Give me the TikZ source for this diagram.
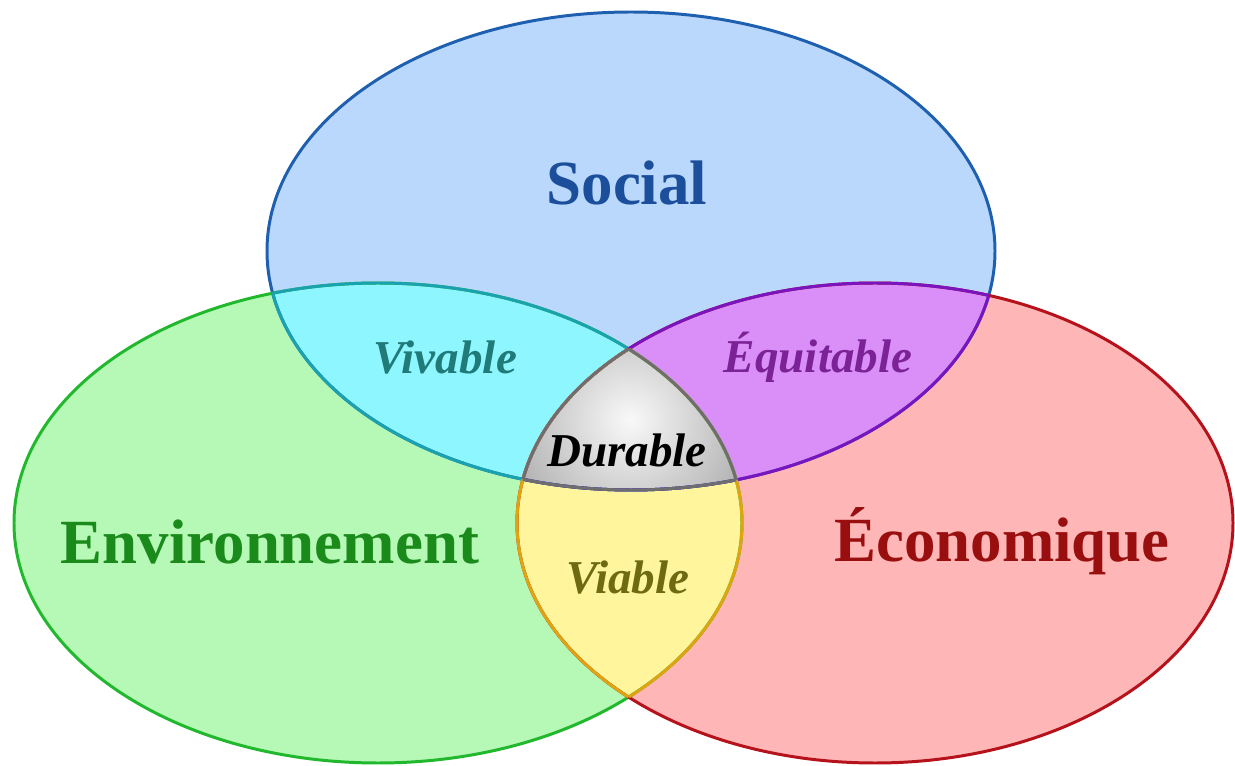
\documentclass[tikz,border=0pt]{standalone}
\usepackage{fontspec}
\setmainfont{Liberation Serif}
\usepackage{xcolor}
\usepackage{tikz}
\definecolor{socfill}{HTML}{BAD8FB}
\definecolor{envfill}{HTML}{B6F8B6}
\definecolor{ecofill}{HTML}{FFB6B6}
\definecolor{vivfill}{HTML}{8EF6FF}
\definecolor{equfill}{HTML}{DA8FF8}
\definecolor{viafill}{HTML}{FFF59C}
\definecolor{socline}{HTML}{1F5FB0}
\definecolor{envline}{HTML}{22B82E}
\definecolor{ecoline}{HTML}{B5121B}
\definecolor{vivline}{HTML}{1AA2AE}
\definecolor{equline}{HTML}{7A14BE}
\definecolor{vialine}{HTML}{E0A410}
\definecolor{durline}{HTML}{6E6E6E}
\definecolor{soctext}{HTML}{1B4F9C}
\definecolor{envtext}{HTML}{1A8A1A}
\definecolor{ecotext}{HTML}{990F0F}
\definecolor{vivtext}{HTML}{1F7A78}
\definecolor{equtext}{HTML}{7A2296}
\definecolor{viatext}{HTML}{6E6A12}
\tikzset{
  zone/.style={line width=1.7pt},
  big/.style={anchor=base, font=\fontsize{35.8}{36}\selectfont\bfseries},
  small/.style={anchor=base, font=\fontsize{26.8}{27}\selectfont\bfseries\itshape},
}
\newcommand\socialpath{(631,514) ellipse [x radius=364, y radius=239]}
\newcommand\envpath{(378,242) ellipse [x radius=364, y radius=240]}
\newcommand\ecopath{(875,242) ellipse [x radius=358, y radius=240]}
\begin{document}
\begin{tikzpicture}[x=0.02cm,y=0.02cm]
  \useasboundingbox (0,0) rectangle (1235,765);
  % the three circles
  \fill[socfill] \socialpath;
  \fill[envfill] \envpath;
  \fill[ecofill] \ecopath;
  % overlaps
  \begin{scope}
    \clip \socialpath;
    \fill[vivfill] \envpath;
    \fill[equfill] \ecopath;
  \end{scope}
  \begin{scope}
    \clip \envpath;
    \fill[viafill] \ecopath;
  \end{scope}
  \begin{scope}
    \clip \socialpath; \clip \envpath; \clip \ecopath;
    \shade[inner color=white!95!gray, outer color=gray!72] (630,345) circle [radius=150];
  \end{scope}
  % outlines
  \draw[zone,socline] \socialpath;
  \draw[zone,envline] \envpath;
  \draw[zone,ecoline] \ecopath;
  \foreach \A/\B/\C in {\envpath/\socialpath/vivline, \socialpath/\envpath/vivline,
      \ecopath/\socialpath/equline, \socialpath/\ecopath/equline,
      \ecopath/\envpath/vialine, \envpath/\ecopath/vialine}
  {
    \begin{scope}
      \clip \A;
      \draw[zone,\C] \B;
    \end{scope}
  }
  \foreach \A/\B/\C in {\envpath/\ecopath/\socialpath, \socialpath/\ecopath/\envpath,
      \socialpath/\envpath/\ecopath}
  {
    \begin{scope}
      \clip \A; \clip \B;
      \draw[zone,durline] \C;
    \end{scope}
  }
  % labels
  \node[big,text=soctext] (social) at (627,560) {Social};
  \node[big,text=envtext] (env) at (270,201) {Environnement};
  \node[big,text=ecotext] (eco) at (1002,203) {Économique};
  \node[small,text=vivtext] (vivable) at (445,391) {Vivable};
  \node[small,text=equtext] (equitable) at (818,392) {Équitable};
  \node[small,text=black] (durable) at (627,298) {Durable};
  \node[small,text=viatext] (viable) at (628,172) {Viable};
\end{tikzpicture}
\end{document}
